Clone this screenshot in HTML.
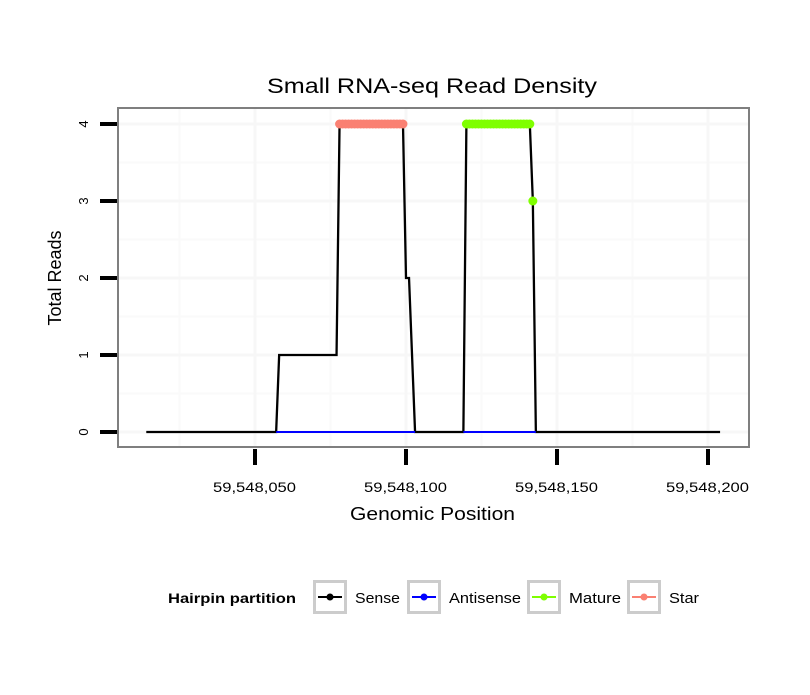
<!DOCTYPE html>
<html><head><meta charset="utf-8"><style>
body{margin:0;background:#fff;}
svg text{font-family:"Liberation Sans",sans-serif;}
</style></head><body>
<svg id="chart" width="810" height="690">
<g id="grid"></g>
<g id="series"></g>
<rect x="118" y="108" width="631" height="339" fill="none" stroke="#7f7f7f" stroke-width="2"/>
<g id="axes"></g>
<text x="267" y="93" font-size="21" textLength="330" lengthAdjust="spacingAndGlyphs">Small RNA-seq Read Density</text>
<text x="350" y="520" font-size="18" textLength="165" lengthAdjust="spacingAndGlyphs">Genomic Position</text>
<text transform="translate(61,278) rotate(-90)" font-size="18" text-anchor="middle">Total Reads</text>
<g id="legend"></g>
</svg>
<script>
const senseX=[14,57,58,77,78,99,100,101,103,119,120,141,142,143,204];
const senseY=[0,0,1,1,4,4,2,2,0,0,4,4,3,0,0];
const antiX=[[57,103],[119,143]];
const starX=[78,79,80,81,82,83,84,85,86,87,88,89,90,91,92,93,94,95,96,97,98,99];
const starY=[4,4,4,4,4,4,4,4,4,4,4,4,4,4,4,4,4,4,4,4,4,4];
const matureX=[120,121,122,123,124,125,126,127,128,129,130,131,132,133,134,135,136,137,138,139,140,141,142];
const matureY=[4,4,4,4,4,4,4,4,4,4,4,4,4,4,4,4,4,4,4,4,4,4,3];
const xTicks=[50,100,150,200];
const xTickLabels=["59,548,050","59,548,100","59,548,150","59,548,200"];
const yTicks=[0,1,2,3,4];
const legendLabels=["Sense","Antisense","Mature","Star"];
const legendColors=["#000000","#0000ff","#7fff00","#fa8072"];
const legendX=[313,407,527,627];
const legendW=[45,72,52,30];

const NS="http://www.w3.org/2000/svg";
const xs=v=>255+(v-50)*3.02;
const ys=v=>432-v*77;
function mk(tag,attrs,parent){const e=document.createElementNS(NS,tag);for(const k in attrs)e.setAttribute(k,attrs[k]);parent.appendChild(e);return e;}
const grid=document.getElementById('grid'),series=document.getElementById('series'),axes=document.getElementById('axes'),legend=document.getElementById('legend');
mk('rect',{x:118,y:108,width:631,height:339,fill:'#fff'},grid);
for(let i=0;i<xTicks.length+1;i++){const v=xTicks[0]-25+i*50;const x=xs(v);if(x>118&&x<749){const l=mk('line',{x1:x,x2:x,y1:109,y2:446,stroke:'#fafafa','stroke-width':2},grid);}}
for(let i=0;i<yTicks.length;i++){const y=ys(yTicks[i]+0.5);if(y>108&&y<447){const l=mk('line',{x1:119,x2:748,y1:y,y2:y,stroke:'#fafafa','stroke-width':2},grid);}}
xTicks.forEach((v,i)=>{const x=xs(v);
 const g=mk('line',{x1:x,x2:x,y1:109,y2:446,stroke:'#f7f7f7','stroke-width':3},grid);
 
 const t=mk('line',{x1:x,x2:x,y1:449,y2:465,stroke:'#000','stroke-width':4},axes);
 
 const tx=mk('text',{x:x-42,y:492,'font-size':14,textLength:83,lengthAdjust:'spacingAndGlyphs'},axes);tx.textContent=xTickLabels[i];
 });
yTicks.forEach(v=>{const y=ys(v);
 const g=mk('line',{x1:119,x2:748,y1:y,y2:y,stroke:'#f7f7f7','stroke-width':3},grid);
 
 const t=mk('line',{x1:100,x2:117,y1:y,y2:y,stroke:'#000','stroke-width':4},axes);
 
 const tx=mk('text',{transform:`translate(88,${y}) rotate(-90)`,'font-size':13,'text-anchor':'middle'},axes);tx.textContent=v;
 });
const sp=mk('polyline',{points:senseX.map((v,i)=>xs(v)+','+ys(senseY[i])).join(' '),fill:'none',stroke:'#000','stroke-width':2.3},series);

antiX.forEach(r=>{const l=mk('line',{x1:xs(r[0]),x2:xs(r[1]),y1:ys(0),y2:ys(0),stroke:'#0000ff','stroke-width':2},series);
 });
function pts(X,Y,c,name){
 X.forEach((v,i)=>{const c2=mk('circle',{cx:xs(v),cy:ys(Y[i]),r:4.5,fill:c},series);
 });}
pts(starX,starY,'#fa8072','star');
pts(matureX,matureY,'#7fff00','mature');
const lt=mk('text',{x:168,y:603,'font-size':14,'font-weight':'bold',textLength:128,lengthAdjust:'spacingAndGlyphs'},legend);lt.textContent='Hairpin partition';

legendLabels.forEach((lab,i)=>{const x=legendX[i];
 const g=mk('g',{},legend);
 mk('rect',{x:x+1.5,y:581.5,width:31,height:31,fill:'#fff',stroke:'#cccccc','stroke-width':3},g);
 mk('line',{x1:x+5,x2:x+29,y1:597,y2:597,stroke:legendColors[i],'stroke-width':2},g);
 mk('circle',{cx:x+17,cy:597,r:3.5,fill:legendColors[i]},g);
 const t=mk('text',{x:x+42,y:603,'font-size':15,textLength:legendW[i],lengthAdjust:'spacingAndGlyphs'},g);t.textContent=lab;});
</script>
</body></html>
